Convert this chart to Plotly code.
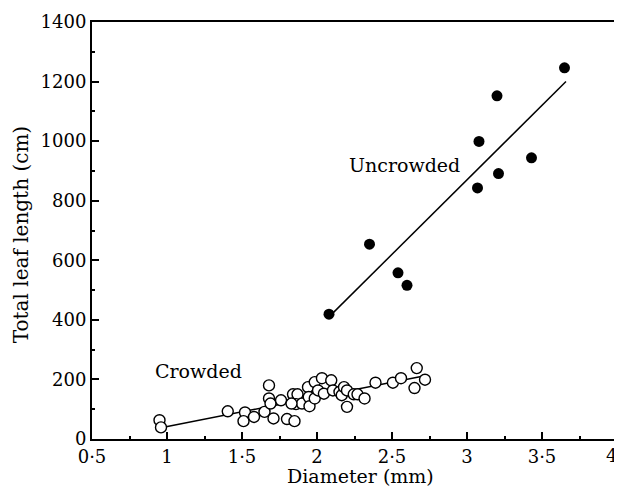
import plotly.graph_objects as go

# Uncrowded (filled circles)
unc_x = [2.08, 2.35, 2.54, 2.60, 3.07, 3.08, 3.20, 3.21, 3.43, 3.65]
unc_y = [419, 654, 558, 516, 843, 999, 1152, 891, 944, 1246]
unc_fit_x = [2.08, 3.66]
unc_fit_y = [410, 1200]

# Crowded (open circles)
cr_x = [0.95, 0.96, 1.405, 1.52, 1.51, 1.58, 1.65, 1.68, 1.68, 1.69, 1.71, 1.76,
        1.80, 1.85, 1.84, 1.87, 1.86, 1.90, 1.94, 1.945, 1.95, 1.985, 1.985, 2.007,
        2.033, 2.046, 2.095, 2.106, 2.15, 2.165, 2.18, 2.20, 2.20, 2.245, 2.27, 2.317,
        2.39, 2.506, 2.56, 2.665, 2.65, 2.72, 1.83]
cr_y = [63, 39, 93, 89, 60, 74, 91, 180, 136, 119, 69, 130,
        67, 60, 150, 150, 117, 119, 174, 141, 110, 136, 191, 163,
        204, 152, 197, 163, 158, 147, 174, 163, 108, 150, 150, 136,
        189, 189, 204, 238, 171, 199, 119]
cr_fit_x = [0.96, 2.72]
cr_fit_y = [38, 212]

x_ticks = [0.5, 1, 1.5, 2, 2.5, 3, 3.5, 4]
x_ticktext = ["0·5", "1", "1·5", "2", "2·5", "3", "3·5", ""]
last_x_label = "4"
x_title = "Diameter (mm)"
y_title = "Total leaf length (cm)"
y_ticks = [0, 200, 400, 600, 800, 1000, 1200, 1400]

FONT = "DejaVu Serif"
TICKSIZE = 18
TITLESIZE = 19

fig = go.Figure()
fig.add_trace(go.Scatter(x=unc_fit_x, y=unc_fit_y, mode="lines",
                         line=dict(color="black", width=1.5), showlegend=False))
fig.add_trace(go.Scatter(x=cr_fit_x, y=cr_fit_y, mode="lines",
                         line=dict(color="black", width=1.5), showlegend=False))
fig.add_trace(go.Scatter(x=unc_x, y=unc_y, mode="markers",
                         marker=dict(color="black", size=11, line=dict(color="black", width=0)),
                         showlegend=False))
fig.add_trace(go.Scatter(x=cr_x, y=cr_y, mode="markers",
                         marker=dict(color="white", size=11, line=dict(color="black", width=1.4)),
                         showlegend=False))

fig.add_annotation(x=2.58, y=919, text="Uncrowded", showarrow=False,
                   font=dict(family=FONT, size=TITLESIZE, color="black"))
fig.add_annotation(x=1.21, y=228, text="Crowded", showarrow=False,
                   font=dict(family=FONT, size=TITLESIZE, color="black"))
fig.add_annotation(x=1, xref="paper", y=0, yref="paper", text=last_x_label, showarrow=False,
                   xanchor="right", xshift=2, yanchor="top", yshift=-4,
                   font=dict(family=FONT, size=TICKSIZE, color="black"))
fig.add_annotation(x=2.29, xref="x", y=0, yref="paper", text=x_title, showarrow=False,
                   xanchor="center", yanchor="middle", yshift=-37,
                   font=dict(family=FONT, size=TITLESIZE, color="black"))
fig.add_annotation(x=0, xref="paper", y=684, yref="y", text=y_title, showarrow=False,
                   textangle=-90, xanchor="center", yanchor="middle", xshift=-71,
                   font=dict(family=FONT, size=20, color="black"))

fig.update_xaxes(range=[0.5, 4], tickvals=x_ticks, ticktext=x_ticktext,
                 ticks="inside", ticklen=7, tickwidth=1.5, tickcolor="black",
                 minor=dict(ticks="inside", ticklen=3, dtick=0.25, tick0=0.5, tickcolor="black", tickwidth=1.5),
                 showline=True, linecolor="black", linewidth=2, mirror=True,
                 showgrid=False, zeroline=False,
                 tickfont=dict(family=FONT, size=TICKSIZE, color="black"))
fig.update_yaxes(range=[0, 1400], tickvals=y_ticks,
                 ticks="inside", ticklen=7, tickwidth=1.5, tickcolor="black",
                 minor=dict(ticks="inside", ticklen=3, dtick=100, tickcolor="black", tickwidth=1.5),
                 showline=True, linecolor="black", linewidth=2, mirror=True,
                 showgrid=False, zeroline=False,
                 tickfont=dict(family=FONT, size=TICKSIZE, color="black"))

# The page body has an 8px margin, so the figure is 8px smaller on each axis
fig.update_layout(width=614, height=480, plot_bgcolor="white", paper_bgcolor="white",
                  margin=dict(l=84, r=3, t=11, b=49))

fig.write_html("out.html")
